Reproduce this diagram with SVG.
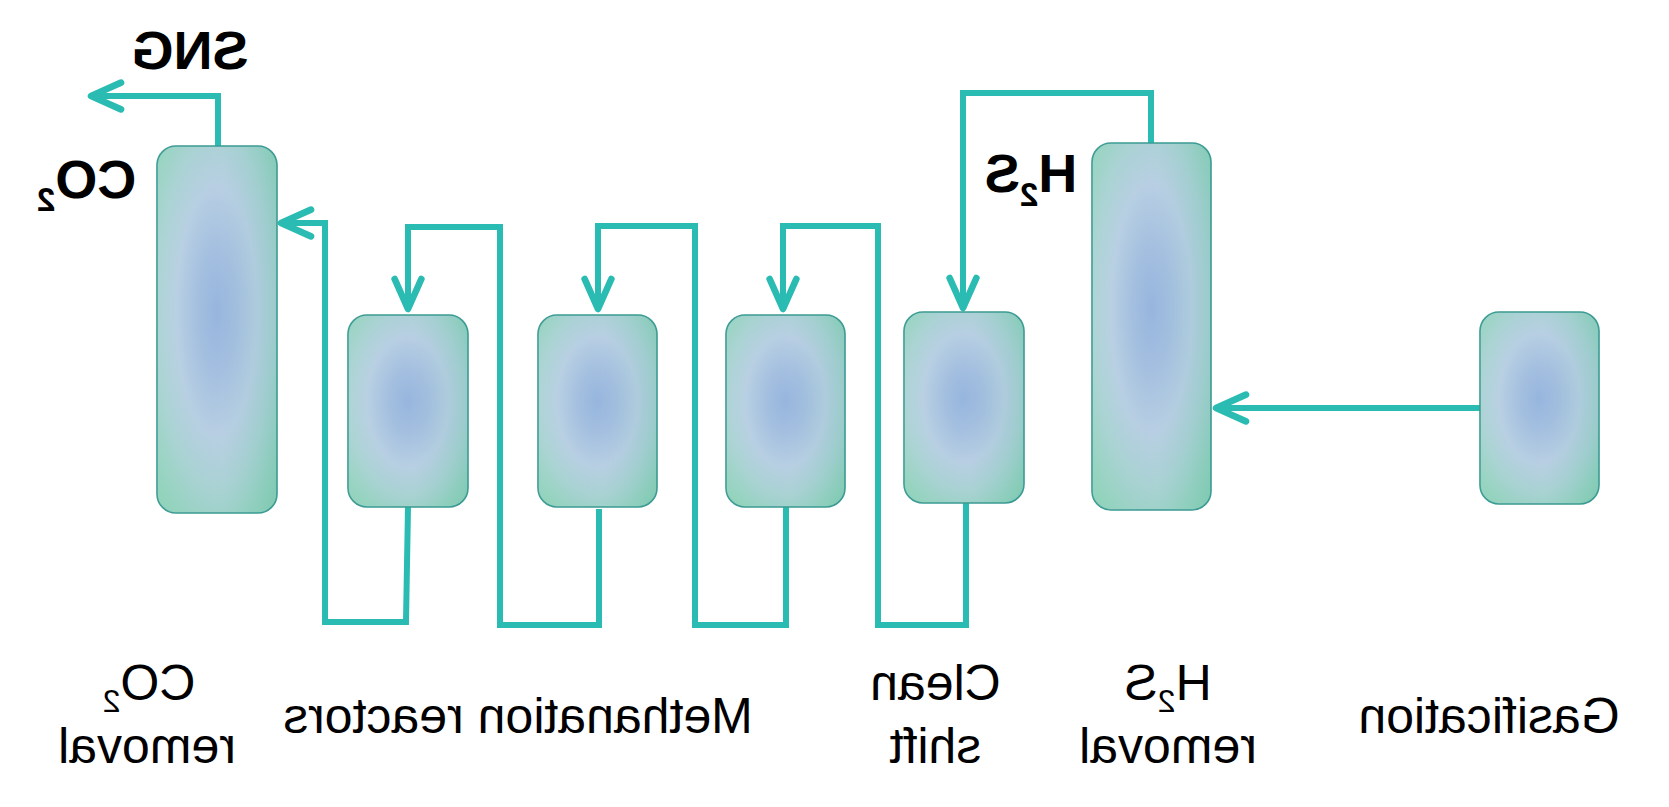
<svg xmlns="http://www.w3.org/2000/svg" width="1669" height="807" viewBox="0 0 1669 807">
<defs>
<radialGradient id="fillG" cx="0.5" cy="0.45" r="0.75" gradientUnits="objectBoundingBox">
<stop offset="0" stop-color="#97b5de"/>
<stop offset="0.22" stop-color="#a4bfe0"/>
<stop offset="0.45" stop-color="#b8cfe3"/>
<stop offset="0.65" stop-color="#a9d2d3"/>
<stop offset="0.85" stop-color="#92d2bd"/>
<stop offset="1" stop-color="#86cfb3"/>
</radialGradient>
<linearGradient id="shade" x1="0" y1="0" x2="1" y2="0">
<stop offset="0" stop-color="#ffffff" stop-opacity="0.06"/>
<stop offset="0.55" stop-color="#5fb0a8" stop-opacity="0"/>
<stop offset="1" stop-color="#4aa8a0" stop-opacity="0.16"/>
</linearGradient>
<marker id="arr" markerUnits="userSpaceOnUse" markerWidth="40" markerHeight="40" viewBox="-32 -16 36 32" refX="0" refY="0" orient="auto">
<path d="M -27 -12 L 0 0 L -27 12" fill="none" stroke="#2abcb3" stroke-width="6" stroke-linecap="round" stroke-linejoin="round"/>
</marker>
</defs>
<style>
.box{fill:url(#fillG);stroke:#3a9a93;stroke-width:1.6}
.sh{fill:url(#shade);stroke:none}
.lbl{font-family:"Liberation Sans",Arial,sans-serif;font-size:50px;fill:#000}
.bl{font-family:"Liberation Sans",Arial,sans-serif;font-weight:bold;font-size:54px;fill:#000}
.ln{fill:none;stroke:#2abcb3;stroke-width:6;stroke-linejoin:miter;stroke-linecap:butt}
</style>
<rect width="1669" height="807" fill="#ffffff"/>

<g id="connectors">
<polyline class="ln" points="218,146 218,96 91,96" marker-end="url(#arr)"/>
<polyline class="ln" points="408,507 406,622 325,622 325,223 281,223" marker-end="url(#arr)"/>
<polyline class="ln" points="599,509 599,625 500,625 500,227 408,227 408,309" marker-end="url(#arr)"/>
<polyline class="ln" points="786,507 786,625 695,625 695,226 598,226 598,309" marker-end="url(#arr)"/>
<polyline class="ln" points="966,503 966,625 878,625 878,226 783,226 783,309" marker-end="url(#arr)"/>
<polyline class="ln" points="1151,143 1151,93 963,93 963,308" marker-end="url(#arr)"/>
<polyline class="ln" points="1480,408 1216,408" marker-end="url(#arr)"/>
<g id="stream-sng" transform="matrix(-1 0 0 1 380 0)"><text class="bl" x="190" y="69" text-anchor="middle">SNG</text></g>
<g id="stream-co2" transform="matrix(-1 0 0 1 173 0)"><text class="bl" x="86.5" y="198" text-anchor="middle" font-size="55">CO<tspan font-size="33" dy="13">2</tspan></text></g>
<g id="stream-h2s" transform="matrix(-1 0 0 1 2062 0)"><text class="bl" x="1031" y="192" text-anchor="middle" font-size="53">H<tspan font-size="33" dy="14">2</tspan><tspan font-size="53" dy="-14">S</tspan></text></g>
</g>

<g id="co2-removal">
<rect class="box" x="157" y="146" width="120" height="367" rx="19"/>
<rect class="sh" x="157" y="146" width="120" height="367" rx="19"/>
<g transform="matrix(-1 0 0 1 298 0)"><text class="lbl" x="149" y="700" text-anchor="middle">CO<tspan font-size="32" dy="12">2</tspan></text></g>
<g transform="matrix(-1 0 0 1 294 0)"><text class="lbl" x="147" y="763" text-anchor="middle">removal</text></g>
</g>

<g id="reactor-1">
<rect class="box" x="348" y="315" width="120" height="192" rx="19"/>
<rect class="sh" x="348" y="315" width="120" height="192" rx="19"/>
</g>

<g id="reactor-2">
<rect class="box" x="538" y="315" width="119" height="192" rx="19"/>
<rect class="sh" x="538" y="315" width="119" height="192" rx="19"/>
<g transform="matrix(-1 0 0 1 1036 0)"><text class="lbl" x="518" y="733" text-anchor="middle">Methanation reactors</text></g>
</g>

<g id="reactor-3">
<rect class="box" x="726" y="315" width="119" height="192" rx="19"/>
<rect class="sh" x="726" y="315" width="119" height="192" rx="19"/>
</g>

<g id="clean-shift">
<rect class="box" x="904" y="312" width="120" height="191" rx="19"/>
<rect class="sh" x="904" y="312" width="120" height="191" rx="19"/>
<g transform="matrix(-1 0 0 1 1871 0)"><text class="lbl" x="935.5" y="700" text-anchor="middle">Clean</text></g>
<g transform="matrix(-1 0 0 1 1871 0)"><text class="lbl" x="935.5" y="763" text-anchor="middle">shift</text></g>
</g>

<g id="h2s-removal">
<rect class="box" x="1092" y="143" width="119" height="367" rx="19"/>
<rect class="sh" x="1092" y="143" width="119" height="367" rx="19"/>
<g transform="matrix(-1 0 0 1 2336 0)"><text class="lbl" x="1168" y="700" text-anchor="middle">H<tspan font-size="32" dy="12">2</tspan><tspan font-size="50" dy="-12">S</tspan></text></g>
<g transform="matrix(-1 0 0 1 2336 0)"><text class="lbl" x="1168" y="763" text-anchor="middle">removal</text></g>
</g>

<g id="gasification">
<rect class="box" x="1480" y="312" width="119" height="192" rx="19"/>
<rect class="sh" x="1480" y="312" width="119" height="192" rx="19"/>
<g transform="matrix(-1 0 0 1 2978 0)"><text class="lbl" x="1489" y="733" text-anchor="middle">Gasification</text></g>
</g>
</svg>
